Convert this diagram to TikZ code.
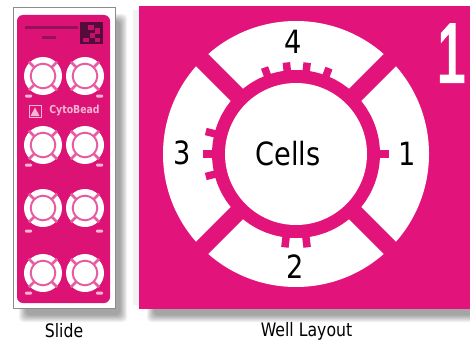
\documentclass[tikz,border=0pt]{standalone}
\usepackage{fontspec}
\setmainfont[FakeStretch=0.85]{DejaVu Sans}
\newfontfamily\bigone[FakeStretch=0.62,FakeBold=2.5]{Liberation Sans}
\definecolor{wellpink}{HTML}{E2137A}
\definecolor{slidepink}{HTML}{DC1275}
\definecolor{softpink}{HTML}{F6B4D4}
\definecolor{darkmark}{HTML}{6A0F4A}
\tikzset{
  lbl/.style={font=\fontsize{32}{36}\selectfont,text=black,inner sep=0pt},
  captext/.style={font=\fontsize{18.5}{21}\selectfont,text=black,inner sep=0pt},
  welltab/.style={draw=wellpink,line width=7.5pt},
  wellband/.style={draw=wellpink,line width=17pt},
  smudge/.style={fill=softpink,rounded corners=1pt},
  darkbar/.style={draw=darkmark,line width=3.6pt,opacity=.6},
}
\newcommand{\softshadow}[4]{% x0 y0 x1 y1
  \foreach \k in {0,1,...,7}{
    \fill[black,opacity=.05,rounded corners=4pt]
      ({#1+\k},{#2+\k}) rectangle ({#3-\k},{#4-\k});
  }
}
\newcommand{\slidewell}[2]{%
  \begin{scope}[shift={(#1,#2)}]
    \fill[white] (0,0) circle (19);
    \foreach \a in {45,135,225,315}{
      \draw[softpink!45!slidepink,line width=2.8pt] (\a:11) -- (\a:20);
    }
    \draw[softpink!45!slidepink,line width=2.2pt] (0,0) circle (12.2);
    \fill[white] (0,0) circle (11.1);
  \end{scope}
}
\begin{document}
\begin{tikzpicture}[x=1pt,y=-1pt]
\useasboundingbox (0,0) rectangle (470,342);
\fill[white] (0,0) rectangle (470,342);

% slide
\softshadow{19}{14}{127}{322}
\fill[white,draw=black!45,line width=.8pt] (13,7) rectangle (115,308);
\fill[slidepink,rounded corners=6pt] (17,15) rectangle (110,303);
\draw[darkbar] (25,27.5) -- (78,27.5);
\draw[darkbar] (42,37.5) -- (56,37.5);
\fill[darkmark!80!black] (80,22) rectangle (103,44);
\fill[slidepink!80!darkmark] (88,25) rectangle (94,30);
\fill[slidepink!80!darkmark] (95,28) rectangle (100,34);
\fill[slidepink!80!darkmark] (90,33) rectangle (95,38);
\fill[slidepink!80!darkmark] (83,38) rectangle (89,42);
\fill[slidepink!80!darkmark] (95,38) rectangle (100,42);

\foreach \yy in {76,145,208,273}{
  \slidewell{43}{\yy}
  \slidewell{85}{\yy}
}
\foreach \yy in {96,165,231,293}{
  \fill[smudge] (25,\yy-1.5) rectangle (32,\yy+1.5);
  \fill[smudge] (96,\yy-1.5) rectangle (103,\yy+1.5);
}
\draw[softpink,line width=1pt] (29,105.5) rectangle (41,117.5);
\fill[softpink] (35,107.5) -- (39.5,116) -- (30.5,116) -- cycle;
\node[inner sep=0pt,text=softpink,font=\fontsize{11}{13}\selectfont\bfseries] (brand) at (74.5,111) {CytoBead};

% well layout
\softshadow{147}{14}{490}{322}
\fill[black,opacity=.05] (133,10) rectangle (139,305);
\fill[wellpink] (139,6) rectangle (470,309);
\begin{scope}[shift={(296,154)}]
  \fill[white] (0,0) circle (133);
  \fill[wellpink] (0,0) circle (84);
  \foreach \a in {45,135,225,315}{
    \draw[wellband] (\a:70) -- (\a:140);
  }
  \foreach \a in {0}{ \draw[welltab] (\a:80) -- (\a:93); }
  \foreach \a in {83.2,96.8}{ \draw[welltab] (\a:80) -- (\a:94); }
  \foreach \a in {166,180,194}{ \draw[welltab] (\a:80) -- (\a:93); }
  \foreach \a in {250,264,277,291}{ \draw[welltab] (\a:80) -- (\a:92); }
  \fill[white] (0,0) circle (71);
\end{scope}
\node[lbl] (cells) at (288,154) {Cells};
\node[lbl] (seg4) at (293,41.5) {4};
\node[lbl] (seg3) at (182,153) {3};
\node[lbl] (seg1) at (407,154) {1};
\node[lbl] (seg2) at (295,266.5) {2};
\node[inner sep=0pt,text=white,font=\fontsize{84}{90}\selectfont\bigone,anchor=base east] (plate) at (466,82) {1};

\node[captext] (slidecap) at (64,331) {Slide};
\node[captext] (layoutcap) at (306.5,331) {Well Layout};
\end{tikzpicture}
\end{document}
